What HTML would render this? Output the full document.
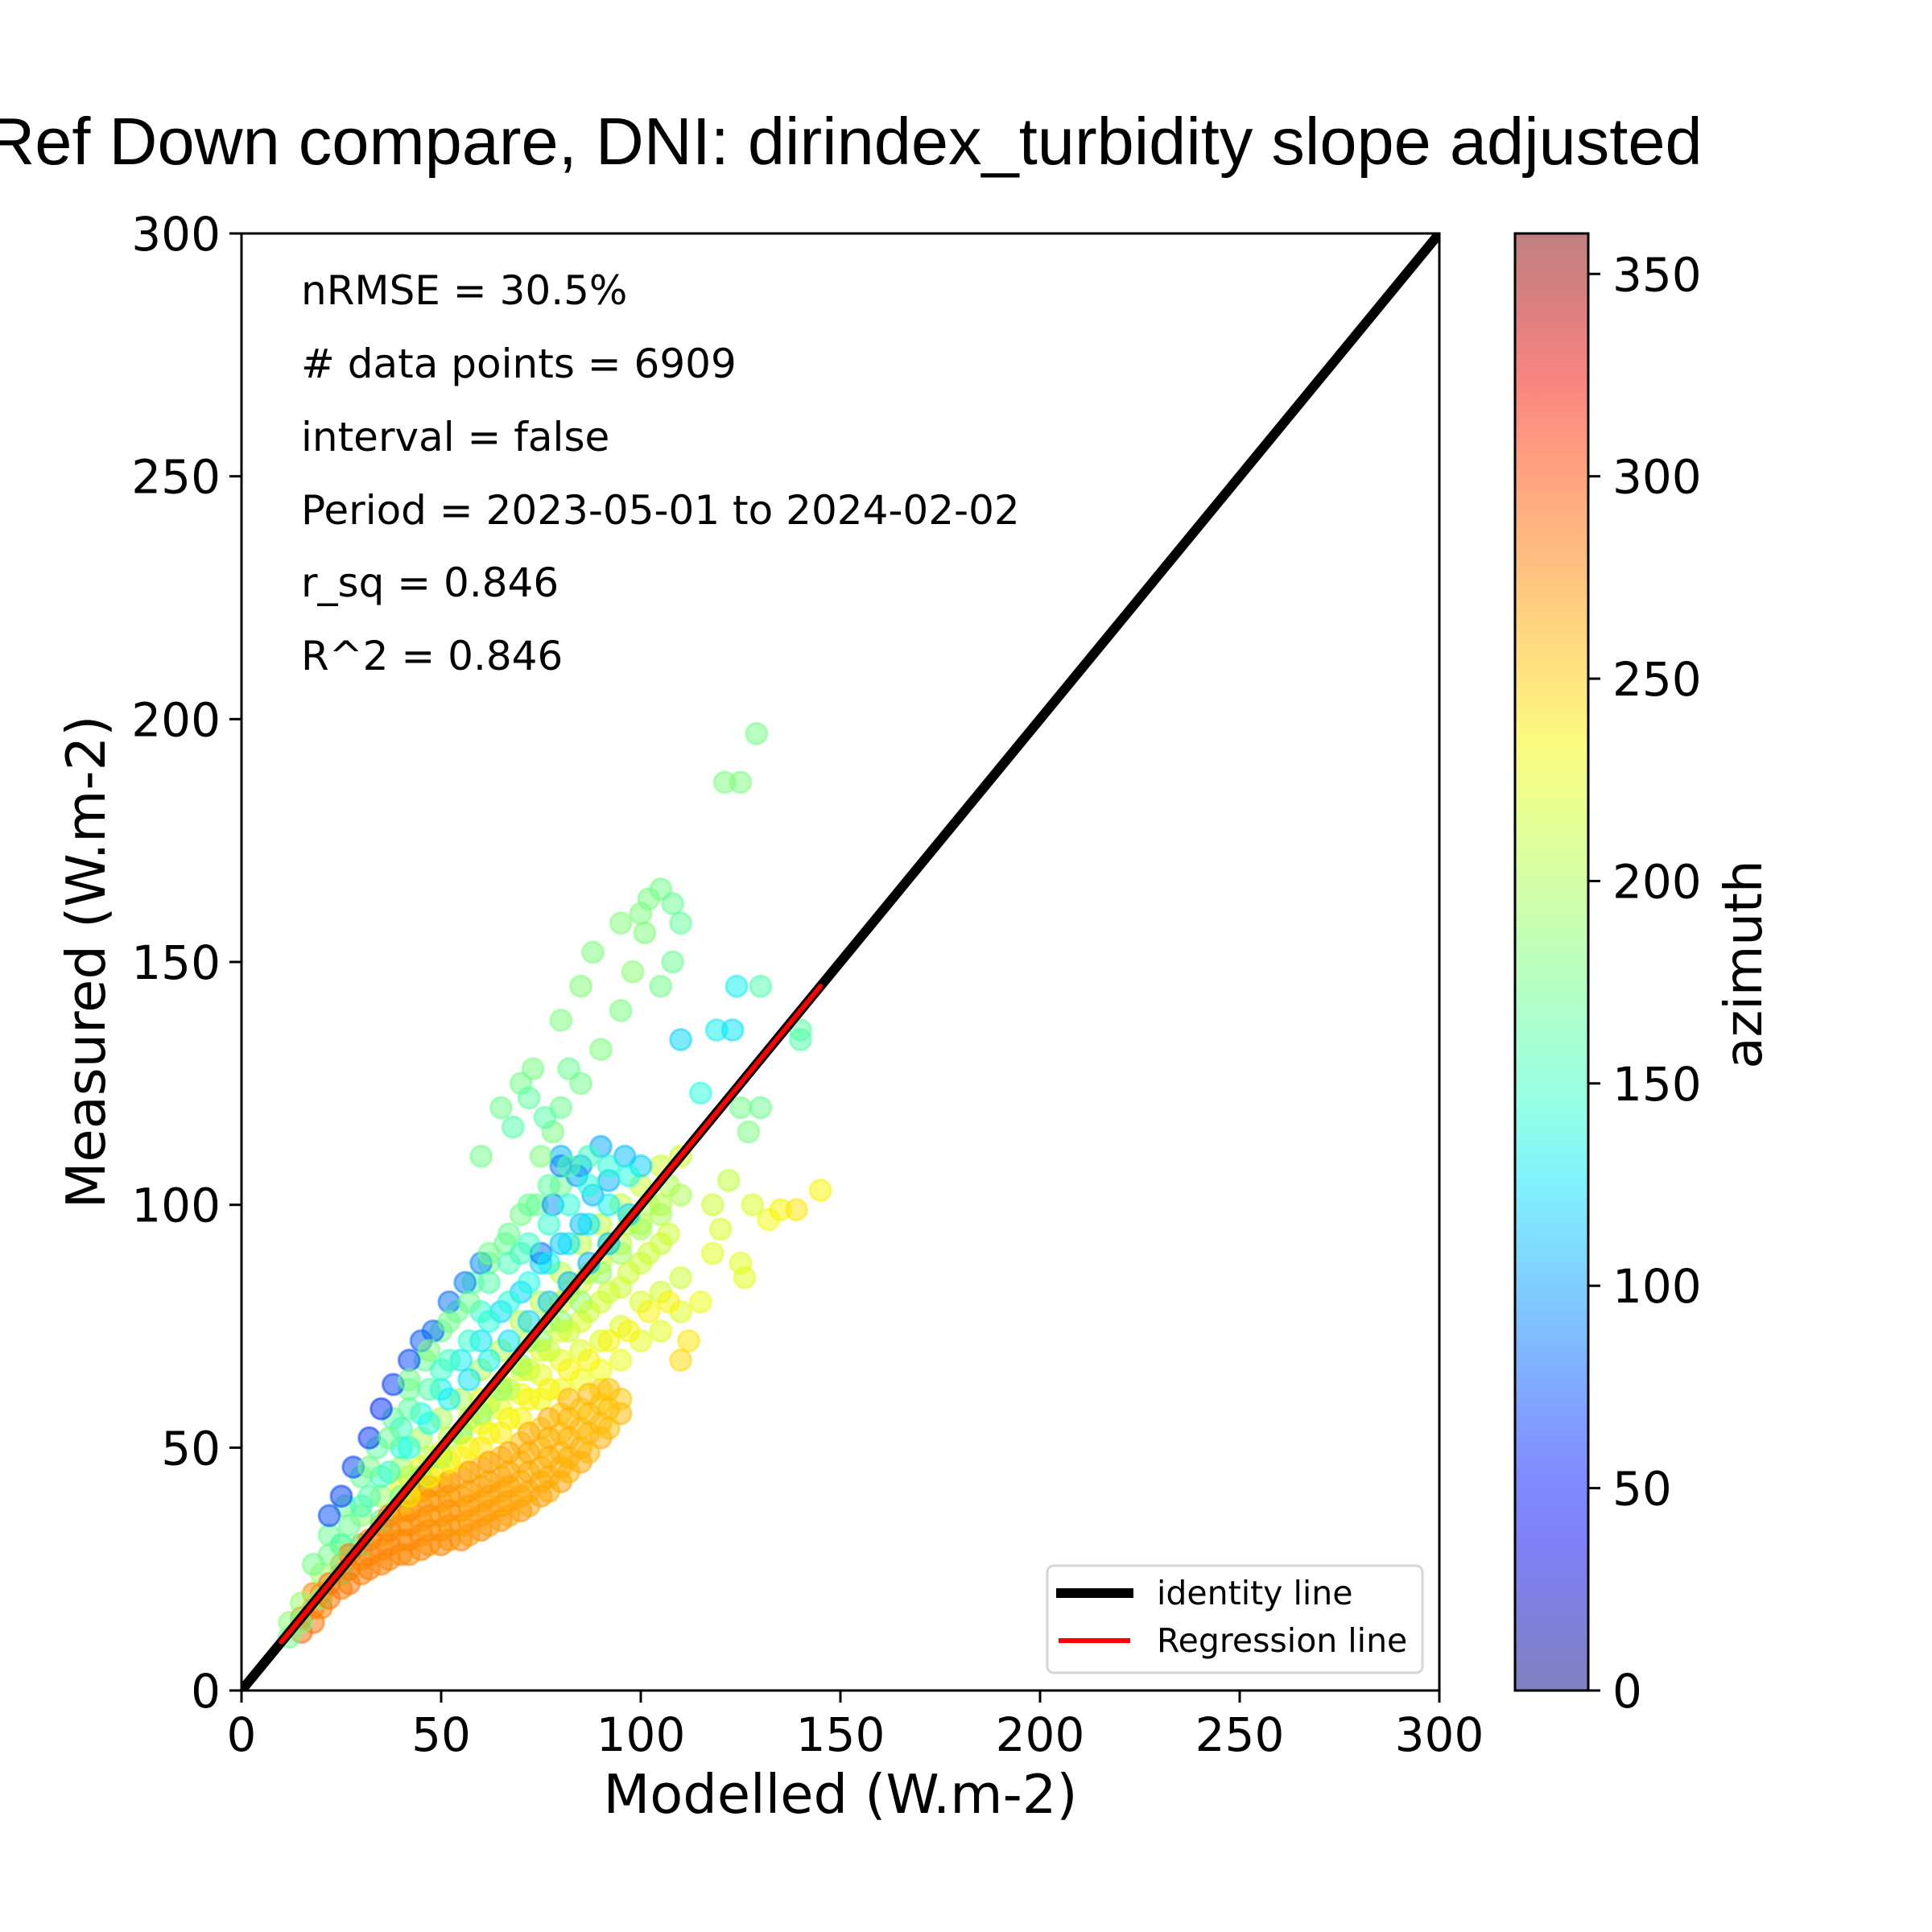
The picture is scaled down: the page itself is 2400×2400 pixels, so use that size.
<!DOCTYPE html>
<html><head><meta charset="utf-8"><style>
html,body{margin:0;padding:0;background:#fff;}
svg{display:block;}
text{font-family:"DejaVu Sans","Liberation Sans",sans-serif;fill:#000;}
</style></head><body>
<svg id="chart" width="2400" height="2400" viewBox="0 0 2400 2400" xmlns="http://www.w3.org/2000/svg">
<rect x="0" y="0" width="2400" height="2400" fill="#fff"/>
<defs>
<linearGradient id="jetGrad" x1="0" y1="1" x2="0" y2="0"></linearGradient>
<clipPath id="plotClip"><rect x="300" y="290" width="1488" height="1810"/></clipPath>
</defs>
<text x="1049" y="204" text-anchor="middle" font-size="83" style="font-family:'Liberation Sans',sans-serif">Ref Down compare, DNI: dirindex_turbidity slope adjusted</text>
<g id="points" clip-path="url(#plotClip)"></g>
<g id="lines" clip-path="url(#plotClip)"></g>
<rect x="300" y="290" width="1488" height="1810" fill="none" stroke="#000" stroke-width="3"/>
<g id="xticks"></g>
<g id="yticks"></g>
<text x="1044" y="2252" text-anchor="middle" font-size="67">Modelled (W.m-2)</text>
<text transform="translate(130,1195) rotate(-90)" text-anchor="middle" font-size="67">Measured (W.m-2)</text>
<g font-size="50">
<text x="374" y="378">nRMSE = 30.5%</text>
<text x="374" y="469"># data points = 6909</text>
<text x="374" y="560">interval = false</text>
<text x="374" y="651">Period = 2023-05-01 to 2024-02-02</text>
<text x="374" y="741">r_sq = 0.846</text>
<text x="374" y="832">R^2 = 0.846</text>
</g>
<g>
<rect x="1301" y="1945" width="466" height="133" rx="8" fill="#fff" fill-opacity="0.8" stroke="#d6d6d6" stroke-width="3"/>
<line x1="1312" y1="1979" x2="1408" y2="1979" stroke="#000" stroke-width="12"/>
<text x="1437" y="1993" font-size="41">identity line</text>
<line x1="1315" y1="2038" x2="1404" y2="2038" stroke="#ff0000" stroke-width="6"/>
<text x="1437" y="2052" font-size="41">Regression line</text>
</g>
<rect x="1882" y="290" width="91" height="1810" fill="url(#jetGrad)"/>
<rect x="1882" y="290" width="91" height="1810" fill="none" stroke="#000" stroke-width="3"/>
<g id="cticks"></g>
<text transform="translate(2188,1198) rotate(-90)" text-anchor="middle" font-size="64">azimuth</text>
</svg>
<script>
const xTicks = [0, 50, 100, 150, 200, 250, 300];
const yTicks = [0, 50, 100, 150, 200, 250, 300];
const cTicks = [0, 50, 100, 150, 200, 250, 300, 350];
const regression = [10, 10, 145, 145];
const modelled = [
15,15,18,18,18,20,20,25,25,25,30,30,30,35,35,35,35,40,40,40,40,45,45,45,45,45,50,50,50,50,50,55,55,55,55,55,60,60,60,60,60,65,65,65,65,65,70,70,70,70,70,75,75,75,75,75,80,80,80,80,80,85,85,85,85,90,90,90,90,95,95,
40,40,45,45,50,50,55,55,60,60,60,65,65,65,70,70,70,75,75,75,80,80,80,80,85,85,85,85,90,90,90,90,95,95,95,95,100,100,100,100,105,105,105,105,110,110,
112,110,115,118,120,125,128,132,135,139,145,118,122,126,
12,12,15,15,20,20,25,25,30,30,35,35,40,40,45,45,50,50,55,55,60,60,65,65,70,70,75,75,80,80,85,85,90,90,95,95,100,100,105,105,110,110,
18,22,26,30,34,38,42,46,50,54,58,62,66,70,74,80,
40,45,50,55,60,65,70,75,80,85,88,92,96,100,90,85,80,
25,30,35,40,50,60,70,
22,25,28,32,35,38,42,45,75,78,80,84,48,52,56,60,
60,65,70,73,80,85,88,95,100,102,105,108,110,108,105,95,90,85,80,78,75,68,72,76,82,98,101,
129,121,125,124,119,123,110,115,130,140,140,125,130,127,
22,22,27,27,27,32,32,32,37,37,37,37,42,42,42,42,42,47,47,47,47,47,52,52,52,52,52,57,57,57,57,57,62,62,62,62,62,67,67,67,67,67,72,72,72,72,72,77,77,77,77,77,82,82,82,82,82,87,87,87,87,92,92,92,
42,42,47,47,52,52,57,57,62,62,67,67,72,72,72,77,77,77,82,82,82,87,87,87,92,92,92,97,97,97,102,102,102,107,107,107,
22,27,32,32,37,37,42,42,42,47,47,47,52,52,52,57,57,57,62,62,62,62,67,67,67,67,72,72,72,72,77,77,77,77,82,82,82,82,87,87,87,87,92,92,92,97,97
];
const measured = [
12,15,14,17,20,17,20,21,24,26,24,27,30,26,29,32,34,28,31,34,37,29,32,35,38,41,30,33,36,39,42,31,34,37,40,44,33,36,39,42,46,35,38,41,44,48,37,40,43,47,51,40,43,46,50,54,43,46,49,53,57,47,50,54,58,52,55,59,62,57,60,
38,42,42,46,45,49,48,53,50,55,60,53,58,63,56,61,66,60,65,70,62,68,74,80,64,70,76,84,66,72,80,88,68,75,83,92,72,80,88,96,74,82,92,100,78,85,
72,68,80,90,95,88,100,97,99,99,103,100,105,85,
11,14,14,18,19,24,24,30,30,36,35,40,40,46,44,52,48,56,53,60,57,66,62,70,67,76,72,80,76,86,80,92,86,96,90,100,95,104,98,108,102,110,
26,32,38,44,50,56,62,68,74,78,84,88,92,98,100,104,
50,57,62,68,72,78,82,88,92,96,102,105,110,108,112,108,110,
30,38,44,54,66,78,90,
36,40,46,52,58,63,68,72,90,100,108,106,74,80,84,88,
110,120,125,128,138,145,152,158,160,163,165,162,158,150,145,140,132,125,120,115,110,116,122,118,128,148,156,
197,187,187,145,136,136,134,123,145,136,134,120,120,115,
19,22,22,25,28,25,28,31,27,30,33,36,28,31,34,37,40,30,33,36,39,42,31,34,37,40,43,32,35,38,41,45,34,37,40,43,47,36,39,42,45,49,38,41,45,49,53,41,44,48,52,56,45,48,52,56,60,49,53,57,61,54,58,62,
40,44,44,48,47,52,50,56,53,59,56,62,60,66,72,62,70,76,66,74,82,68,78,86,72,82,92,74,86,96,78,90,100,80,94,104,
28,34,40,46,45,52,50,58,64,55,62,70,60,68,76,64,72,80,68,76,84,90,72,80,88,94,76,84,92,100,80,88,96,104,84,92,100,108,88,96,104,110,92,100,108,98,106
];
const azimuth = [
290,285,285,280,275,280,275,280,275,270,280,275,270,280,275,270,268,280,275,270,266,280,275,270,265,262,280,275,268,264,262,278,272,266,262,260,276,270,265,262,258,274,268,264,260,256,272,266,262,258,255,270,265,260,256,252,268,264,260,255,250,266,262,256,250,262,258,252,248,258,252,
240,235,240,235,238,232,236,230,238,232,228,236,230,226,234,228,224,232,226,222,232,226,222,218,230,224,220,214,230,224,218,212,228,222,216,210,226,220,214,208,226,218,212,206,224,216,
240,245,230,225,220,225,220,230,235,240,235,215,210,225,
170,185,175,190,180,195,165,195,160,190,165,192,170,195,172,198,175,200,175,200,180,202,180,205,182,205,185,206,185,208,188,210,190,210,195,212,195,212,200,215,200,215,
175,170,172,168,165,168,170,170,172,170,168,172,170,175,170,172,
140,135,130,128,125,122,120,118,115,112,110,108,112,118,105,100,110,
155,152,150,150,148,145,150,
70,65,68,62,60,65,68,75,85,95,90,100,80,85,90,92,
175,172,175,178,180,182,180,182,180,178,175,170,168,170,175,178,180,175,172,178,180,160,165,162,170,185,180,
175,180,180,130,130,125,120,140,160,165,160,175,170,178,
285,285,282,282,282,280,280,280,278,278,278,278,276,276,276,276,276,274,274,274,274,274,272,272,272,272,272,270,270,270,270,270,268,268,268,268,268,266,266,266,266,266,264,264,264,264,264,262,262,262,262,262,260,260,260,260,260,258,258,258,258,255,255,255,
235,205,235,205,235,205,235,205,235,205,235,205,235,215,200,235,215,200,235,215,200,235,215,200,235,215,200,235,215,200,235,215,200,235,215,200,
175,170,160,175,150,170,140,165,175,135,160,180,130,150,175,125,145,170,130,140,160,175,125,140,155,170,120,135,150,170,115,130,145,165,110,125,140,160,110,125,140,150,115,130,140,120,135
];

const NS = 'http://www.w3.org/2000/svg';
const PL = 300, PR = 1788, PT = 290, PB = 2100;
function sx(v){ return PL + v / 300 * (PR - PL); }
function sy(v){ return PB - v / 300 * (PB - PT); }
function cy(v){ return PB - v / 360 * (PB - PT); }
function jet(t){
  function seg(pts){
    for (let i = 1; i < pts.length; i++){
      if (t <= pts[i][0]){
        const a = pts[i-1], b = pts[i];
        return a[1] + (b[1]-a[1]) * (t-a[0]) / (b[0]-a[0]);
      }
    }
    return pts[pts.length-1][1];
  }
  const r = seg([[0,0],[0.35,0],[0.66,1],[0.89,1],[1,0.5]]);
  const g = seg([[0,0],[0.125,0],[0.375,1],[0.64,1],[0.91,0],[1,0]]);
  const b = seg([[0,0.5],[0.11,1],[0.34,1],[0.65,0],[1,0]]);
  return [Math.round(r*255), Math.round(g*255), Math.round(b*255)];
}
function mk(tag, attrs){
  const e = document.createElementNS(NS, tag);
  for (const k in attrs) e.setAttribute(k, attrs[k]);
  return e;
}

const grad = document.getElementById('jetGrad');
for (let i = 0; i <= 20; i++){
  const c = jet(i/20);
  const st = mk('stop', {offset: (i*5)+'%', 'stop-color': 'rgb('+c.join(',')+')', 'stop-opacity': '0.5'});
  grad.appendChild(st);
}

const pg = document.getElementById('points');
const n = Math.min(modelled.length, measured.length, azimuth.length);
for (let i = 0; i < n; i++){
  const c = jet(Math.min(1, Math.max(0, azimuth[i]/360)));
  const col = 'rgb(' + c.join(',') + ')';
  const el = mk('circle', {cx: sx(modelled[i]), cy: sy(measured[i]), r: 13, fill: col, 'fill-opacity': 0.5, stroke: col, 'stroke-opacity': 0.5, 'stroke-width': 3});
  
  
  pg.appendChild(el);
}

const lg = document.getElementById('lines');
const idl = mk('line', {x1: sx(0), y1: sy(0), x2: sx(300), y2: sy(300), stroke: '#000', 'stroke-width': 12});


lg.appendChild(idl);
const rl = mk('line', {x1: sx(regression[0]), y1: sy(regression[1]), x2: sx(regression[2]), y2: sy(regression[3]), stroke: '#ff0000', 'stroke-width': 6, 'stroke-linecap': 'round'});


lg.appendChild(rl);

const xg = document.getElementById('xticks');
xTicks.forEach(v => {
  const t = mk('line', {x1: sx(v), y1: PB, x2: sx(v), y2: PB + 15, stroke: '#000', 'stroke-width': 3});
  
  
  xg.appendChild(t);
  const l = mk('text', {x: sx(v), y: 2175, 'text-anchor': 'middle', 'font-size': 58});
  l.textContent = v;
  
  
  xg.appendChild(l);
});
const yg = document.getElementById('yticks');
yTicks.forEach(v => {
  const t = mk('line', {x1: PL - 15, y1: sy(v), x2: PL, y2: sy(v), stroke: '#000', 'stroke-width': 3});
  
  
  yg.appendChild(t);
  const l = mk('text', {x: 274, y: sy(v) + 21, 'text-anchor': 'end', 'font-size': 58});
  l.textContent = v;
  
  
  yg.appendChild(l);
});
const cg = document.getElementById('cticks');
cTicks.forEach(v => {
  const t = mk('line', {x1: 1973, y1: cy(v), x2: 1988, y2: cy(v), stroke: '#000', 'stroke-width': 3});
  
  
  cg.appendChild(t);
  const l = mk('text', {x: 2003, y: cy(v) + 21, 'font-size': 58});
  l.textContent = v;
  
  
  cg.appendChild(l);
});
</script>
</body></html>
